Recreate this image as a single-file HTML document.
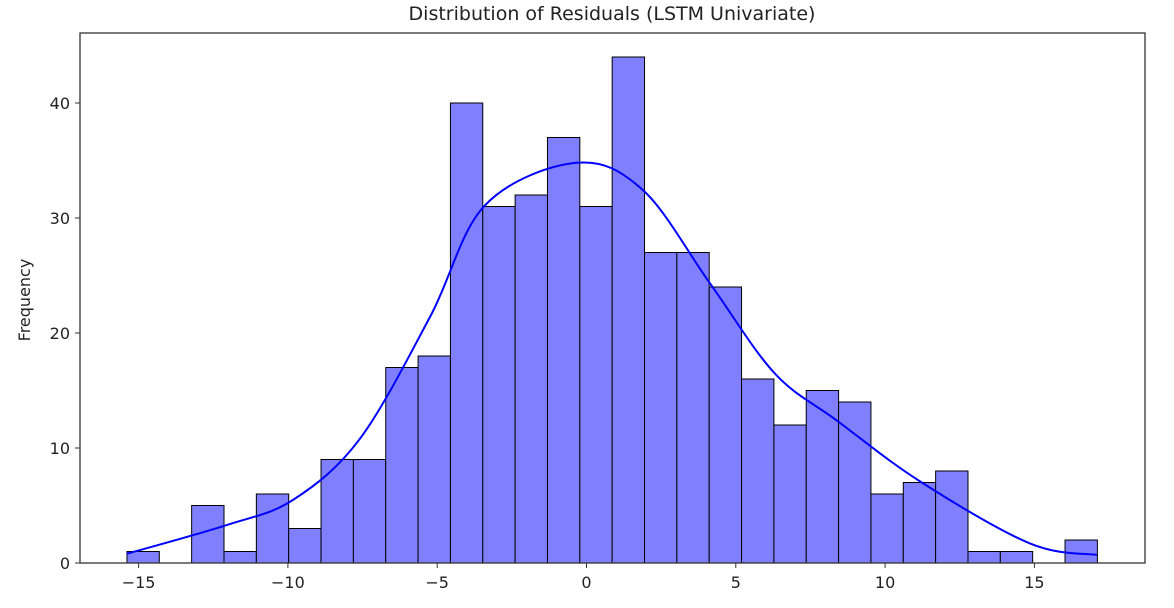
<!DOCTYPE html>
<html><head><meta charset="utf-8"><style>
body{margin:0;background:#fff;font-family:"Liberation Sans","DejaVu Sans",sans-serif}
svg text{font-family:"DejaVu Sans","Liberation Sans",sans-serif;fill:#222}
</style></head><body>
<svg id="chart" width="1174" height="603" viewBox="0 0 1174 603" xmlns="http://www.w3.org/2000/svg">
<rect width="1174" height="603" fill="#fff"/>
<text x="612" y="20" font-size="19" text-anchor="middle">Distribution of Residuals (LSTM Univariate)</text>
<text transform="translate(30,300) rotate(-90)" font-size="16" text-anchor="middle">Frequency</text>
<g id="bars"></g><path id="kde" fill="none" stroke="#0000ff" stroke-width="2"/>
<rect x="80" y="33" width="1065" height="530" fill="none" stroke="#333" stroke-width="1.3"/>
<g id="ticks"></g>
</svg>
<script>
const binStart = -15.39;
const binWidth = 1.0833;
const counts = [1,0,5,1,6,3,9,9,17,18,40,31,32,37,31,44,27,27,24,16,12,15,14,6,7,8,1,1,0,2];
const kdeX = [-15.4,-12.05,-9.82,-7.59,-5.24,-3.4,-0.33,1.9,4.14,6.3,8.38,11.17,14.85,17.09];
const kdeY = [0.8,3.3,5.5,10.8,21.4,31.1,34.8,32.4,24.3,16.5,12.4,7.1,1.7,0.7];
const xTicks = [-15,-10,-5,0,5,10,15];
const yTicks = [0,10,20,30,40];
const NS="http://www.w3.org/2000/svg";
const sx=v=>586.5+v*29.86, sy=v=>563-v*11.5;
const bars=document.getElementById('bars');
counts.forEach((c,i)=>{ if(c<=0) return;
 const r=document.createElementNS(NS,'rect');
 const x0=sx(binStart+i*binWidth), x1=sx(binStart+(i+1)*binWidth);
 r.setAttribute('x',x0);r.setAttribute('width',x1-x0);r.setAttribute('y',sy(c));r.setAttribute('height',sy(0)-sy(c));
 r.setAttribute('fill','#8080ff');r.setAttribute('stroke','#000');r.setAttribute('stroke-width','1');
 
 
 bars.appendChild(r);});
const P=kdeX.map((x,i)=>[sx(x),sy(kdeY[i])]);
let d='M'+P[0][0]+','+P[0][1];
for(let i=0;i<P.length-1;i++){const p0=P[i-1]||P[i],p1=P[i],p2=P[i+1],p3=P[i+2]||P[i+1];
 d+=` C${p1[0]+(p2[0]-p0[0])/6},${p1[1]+(p2[1]-p0[1])/6} ${p2[0]-(p3[0]-p1[0])/6},${p2[1]-(p3[1]-p1[1])/6} ${p2[0]},${p2[1]}`;}
document.getElementById('kde').setAttribute('d',d);
const tg=document.getElementById('ticks');
xTicks.forEach(v=>{const x=sx(v);
 const l=document.createElementNS(NS,'line');l.setAttribute('x1',x);l.setAttribute('x2',x);l.setAttribute('y1',563);l.setAttribute('y2',568);l.setAttribute('stroke','#333');
 
 
 tg.appendChild(l);
 const t=document.createElementNS(NS,'text');t.setAttribute('x',x);t.setAttribute('y',588);t.setAttribute('font-size','16');t.setAttribute('text-anchor','middle');t.textContent=(v<0?'\u2212'+(-v):v);
 
 
 tg.appendChild(t);});
yTicks.forEach(v=>{const y=sy(v);
 const l=document.createElementNS(NS,'line');l.setAttribute('x1',75);l.setAttribute('x2',80);l.setAttribute('y1',y);l.setAttribute('y2',y);l.setAttribute('stroke','#333');
 
 
 tg.appendChild(l);
 const t=document.createElementNS(NS,'text');t.setAttribute('x',70);t.setAttribute('y',y+6);t.setAttribute('font-size','16');t.setAttribute('text-anchor','end');t.textContent=v;
 
 
 tg.appendChild(t);});
</script>
</body></html>
